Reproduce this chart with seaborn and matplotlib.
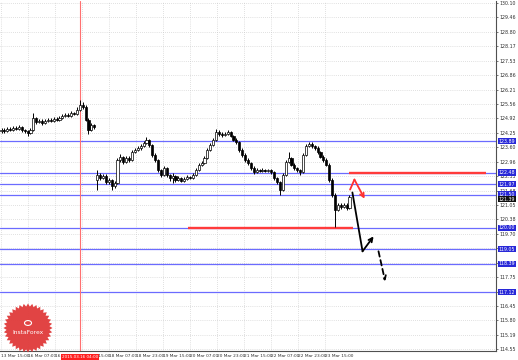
import numpy as np
import pandas as pd
import matplotlib
matplotlib.use("Agg")
import matplotlib.pyplot as plt
import seaborn as sns
from matplotlib.patches import Polygon, Circle

sns.set_style("white")
plt.rcParams['font.family'] = ['DejaVu Sans']

# ---------------- data (H1-ish candles, price) ----------------
opens = [124.33, 124.40, 124.35, 124.44, 124.40, 124.49, 124.44, 124.53, 124.40, 124.35,
         124.26, 124.40, 124.94, 124.76, 124.80, 124.71, 124.80, 124.85, 124.80, 124.89,
         124.85, 124.94, 125.03, 125.07, 125.03, 125.16, 125.12, 125.30, 125.52, 125.43,
         124.85, 124.40, 124.62,
         122.15, 122.38, 122.24, 122.33, 122.06, 122.15, 121.89, 122.02, 123.05, 123.19,
         122.96, 123.14, 123.05, 123.41, 123.50, 123.59, 123.68, 123.81, 123.95, 123.72,
         123.28, 123.05, 122.60, 122.38, 122.69, 122.38, 122.24, 122.33, 122.15, 122.24,
         122.11, 122.20, 122.29, 122.24, 122.38, 122.60, 122.83, 122.92, 123.14, 123.50,
         123.72, 123.95, 124.31, 124.22, 124.17, 124.22, 124.31, 124.13, 123.95, 123.86,
         123.50, 123.28, 123.05, 122.92, 122.69, 122.51, 122.60, 122.56, 122.60, 122.56,
         122.60, 122.51, 122.24, 122.06, 121.70, 122.38, 122.96, 123.14, 122.83, 122.69,
         122.60, 122.51, 123.28, 123.68, 123.77, 123.68, 123.59, 123.41, 123.19, 123.05,
         122.83, 122.15, 121.48, 120.81, 121.03, 120.94, 121.03, 120.90]
closes = [124.40, 124.35, 124.44, 124.40, 124.49, 124.44, 124.53, 124.40, 124.35, 124.26,
          124.40, 124.94, 124.76, 124.80, 124.71, 124.80, 124.85, 124.80, 124.89, 124.85,
          124.94, 125.03, 125.07, 125.03, 125.16, 125.12, 125.30, 125.52, 125.43, 124.85,
          124.40, 124.62, 124.53,
          122.38, 122.24, 122.33, 122.06, 122.15, 121.89, 122.02, 123.05, 123.19, 122.96,
          123.14, 123.05, 123.41, 123.50, 123.59, 123.68, 123.81, 123.95, 123.72, 123.28,
          123.05, 122.60, 122.38, 122.69, 122.38, 122.24, 122.33, 122.15, 122.24, 122.11,
          122.20, 122.29, 122.24, 122.38, 122.60, 122.83, 122.92, 123.14, 123.50, 123.72,
          123.95, 124.31, 124.22, 124.17, 124.22, 124.31, 124.13, 123.95, 123.86, 123.50,
          123.28, 123.05, 122.92, 122.69, 122.51, 122.60, 122.56, 122.60, 122.56, 122.60,
          122.51, 122.24, 122.06, 121.70, 122.38, 122.96, 123.14, 122.83, 122.69, 122.60,
          122.51, 123.28, 123.68, 123.77, 123.68, 123.59, 123.41, 123.19, 123.05, 122.83,
          122.15, 121.48, 120.81, 121.03, 120.94, 121.03, 120.90, 121.39]
highs = [124.50, 124.48, 124.52, 124.53, 124.58, 124.56, 124.62, 124.58, 124.45, 124.40,
         124.48, 125.18, 125.00, 124.90, 124.88, 124.88, 124.93, 124.92, 124.97, 124.96,
         125.02, 125.12, 125.15, 125.14, 125.24, 125.22, 125.42, 125.74, 125.65, 125.50,
         124.92, 124.70, 124.68,
         122.60, 122.45, 122.42, 122.40, 122.24, 122.20, 122.12, 123.15, 123.30, 123.25,
         123.22, 123.24, 123.50, 123.60, 123.68, 123.76, 123.90, 124.08, 124.00, 123.78,
         123.35, 123.10, 122.66, 122.78, 122.74, 122.44, 122.45, 122.38, 122.32, 122.30,
         122.28, 122.36, 122.35, 122.45, 122.68, 122.90, 123.00, 123.22, 123.58, 123.80,
         124.04, 124.44, 124.38, 124.30, 124.31, 124.40, 124.36, 124.18, 124.02, 123.92,
         123.60, 123.36, 123.12, 122.98, 122.76, 122.68, 122.66, 122.67, 122.65, 122.66,
         122.65, 122.56, 122.30, 122.12, 122.46, 123.05, 123.41, 123.20, 122.90, 122.75,
         122.66, 123.36, 123.76, 123.86, 123.84, 123.74, 123.66, 123.46, 123.26, 123.12,
         122.90, 122.22, 121.55, 121.12, 121.10, 121.10, 121.10, 121.48]
lows = [124.25, 124.28, 124.30, 124.33, 124.35, 124.38, 124.40, 124.32, 124.27, 124.14,
        124.20, 124.36, 124.68, 124.70, 124.64, 124.66, 124.74, 124.74, 124.75, 124.78,
        124.80, 124.90, 124.98, 124.96, 124.98, 125.05, 125.08, 125.26, 125.35, 124.78,
        124.22, 124.35, 124.45,
        121.70, 122.15, 122.18, 121.98, 121.98, 121.68, 121.80, 121.98, 122.98, 122.85,
        122.90, 122.96, 123.00, 123.35, 123.44, 123.52, 123.62, 123.76, 123.65, 123.20,
        122.96, 122.52, 122.30, 122.32, 122.30, 122.10, 122.02, 122.08, 122.10, 122.04,
        122.06, 122.14, 122.18, 122.20, 122.34, 122.55, 122.76, 122.86, 123.08, 123.44,
        123.66, 123.90, 124.14, 124.10, 124.12, 124.16, 124.06, 123.88, 123.78, 123.42,
        123.18, 122.96, 122.84, 122.60, 122.44, 122.46, 122.50, 122.50, 122.49, 122.50,
        122.42, 122.16, 121.96, 121.48, 121.65, 122.32, 122.90, 122.76, 122.62, 122.52,
        122.38, 122.46, 123.22, 123.62, 123.60, 123.52, 123.34, 123.12, 122.98, 122.76,
        122.08, 121.40, 120.05, 120.74, 120.86, 120.88, 120.82, 120.85]

levels = [123.89, 122.48, 121.97, 121.50, 120.00, 119.05, 118.39, 117.12]
level_labels = ["123.89", "122.48", "121.97", "121.50", "120.00", "119.05", "118.39", "117.12"]
red_levels = [122.48, 120.00]
red_start = [119.8, 64.3]
red_end = [167.0, 121.2]
marker_bar = 27
marker_label = "2015.03.16 04:00"
bid_price = 121.39
bid_label = "121.39"

price_ticks = ["114.55", "115.19", "115.80", "116.45", "", "117.75", "", "", "119.70", "120.38",
               "121.05", "121.68", "122.33", "122.96", "123.60", "124.25", "124.92", "125.56",
               "126.21", "126.86", "127.53", "128.17", "128.80", "129.46", "130.10"]
time_labels = ["13 Mar 15:00", "16 Mar 07:00", "16 Mar 23:00", "17 Mar 15:00", "18 Mar 07:00",
               "18 Mar 23:00", "19 Mar 15:00", "20 Mar 07:00", "20 Mar 23:00", "21 Mar 15:00",
               "22 Mar 07:00", "22 Mar 23:00", "23 Mar 15:00"]

solid_x = [121.0, 124.5, 128.3]
solid_y = [121.59, 118.95, 119.62]
dash_x = [130.0, 132.3]
dash_y = [118.95, 117.60]
alt_x = [120.2, 121.7, 125.2]
alt_y = [121.72, 122.17, 121.31]

# ---------------- layout ----------------
W, H = 518, 360
BAR_PX = 2.9
fig = plt.figure(figsize=(W / 100, H / 100), dpi=100)
fig.patch.set_facecolor("white")
ax = fig.add_axes([0, 9 / H, 496 / W, 350 / H])
ax.set_facecolor("white")

n = len(closes)
x = np.arange(n)
ax.set_xlim(-1.5 / BAR_PX, (496 - 1.5) / BAR_PX)
ax.set_ylim(114.475, 130.186)

# grid / ticks
pt = np.linspace(114.55, 130.10, len(price_ticks))
ax.yaxis.tick_right()
ax.set_yticks(pt)
ax.set_yticklabels(price_ticks, fontsize=3.4, color="#303030")
tx = (np.arange(len(time_labels)) * 27 + 1 - 1.5) / BAR_PX
ax.set_xticks(tx)
ax.set_xticklabels(time_labels, fontsize=3.1, color="#303030", ha="left")
ax.tick_params(axis="y", length=1.5, width=0.5, pad=1.0, color="#404040")
ax.tick_params(axis="x", length=1.5, width=0.5, pad=0.8, color="#404040")
ax.grid(True, color="#c4c4c4", linestyle=(0, (1, 2)), linewidth=0.5)
for s in ["left", "top"]:
    ax.spines[s].set_visible(False)
for s in ["right", "bottom"]:
    ax.spines[s].set_color("#505050")
    ax.spines[s].set_linewidth(0.8)

# horizontal levels
for lv in levels:
    ax.axhline(lv, color="#6b6bff", lw=0.9, zorder=2)
for lv, a, b in zip(red_levels, red_start, red_end):
    ax.plot([a, b], [lv, lv], color="#ff3b3b", lw=1.7, zorder=3, solid_capstyle="butt")

# vertical marker
ax.axvline(marker_bar, color="#ff7070", lw=0.8, zorder=2)

# candles
o = np.array(opens); c = np.array(closes); h = np.array(highs); l = np.array(lows)
ax.vlines(x, l, h, color="black", lw=0.7, zorder=4)
up = c >= o
ax.bar(x[up], (c - o)[up], bottom=o[up], width=0.7, color="white",
       edgecolor="black", linewidth=0.5, zorder=5)
ax.bar(x[~up], (c - o)[~up], bottom=o[~up], width=0.7, color="black",
       edgecolor="black", linewidth=0.5, zorder=5)

# forecast paths
df_solid = pd.DataFrame({"bar": solid_x[:-1], "price": solid_y[:-1]})
sns.lineplot(data=df_solid, x="bar", y="price", sort=False, color="black", lw=1.3, ax=ax, zorder=6)
ax.annotate("", xy=(solid_x[-1], solid_y[-1]), xytext=(solid_x[-2], solid_y[-2]),
            arrowprops=dict(arrowstyle="->", color="black", lw=1.3, mutation_scale=7,
                            shrinkA=0, shrinkB=0), zorder=6)
ax.annotate("", xy=(dash_x[-1], dash_y[-1]), xytext=(dash_x[0], dash_y[0]),
            arrowprops=dict(arrowstyle="->", color="black", lw=1.3, linestyle=(0, (3, 2)),
                            mutation_scale=7, shrinkA=0, shrinkB=0), zorder=6)
ax.plot(alt_x[:-1], alt_y[:-1], color="#ff3030", lw=1.3, zorder=6)
ax.annotate("", xy=(alt_x[-1], alt_y[-1]), xytext=(alt_x[-2], alt_y[-2]),
            arrowprops=dict(arrowstyle="->", color="#ff3030", lw=1.3, mutation_scale=7,
                            shrinkA=0, shrinkB=0), zorder=6)
ax.set_xlabel(""); ax.set_ylabel("")

# right-side price boxes
ytr = ax.get_yaxis_transform()
for lv, lab in zip(levels, level_labels):
    ax.text(1.005, lv, lab, transform=ytr, fontsize=3.4, color="white", va="center", ha="left",
            bbox=dict(boxstyle="square,pad=0.15", fc="#2828d8", ec="none"), clip_on=False, zorder=10)
ax.text(1.005, bid_price - 0.1, bid_label, transform=ytr, fontsize=3.4, color="white", va="center",
        ha="left", bbox=dict(boxstyle="square,pad=0.15", fc="#101010", ec="none"), clip_on=False, zorder=11)

# marker label on the time axis
ax.text(marker_bar, -0.011, marker_label, transform=ax.get_xaxis_transform(), fontsize=3.0,
        color="white", ha="center", va="top",
        bbox=dict(boxstyle="square,pad=0.2", fc="#ff2020", ec="none"), clip_on=False, zorder=12)

# logo (starburst)
cx, cy, r1, r2, k = 28, 360 - 328, 24.5, 21.5, 36
ang = np.linspace(0, 2 * np.pi, 2 * k, endpoint=False)
rad = np.where(np.arange(2 * k) % 2 == 0, r1, r2)
pts = np.column_stack([(cx + rad * np.cos(ang)) / W, (cy + rad * np.sin(ang)) / H])
fig.patches.append(Polygon(pts, closed=True, transform=fig.transFigure, fc="#e03a3a",
                           ec="none", alpha=0.95, zorder=20))
fig.patches.append(Circle((cx / W, (cy + 5) / H), 3.5 / W, transform=fig.transFigure,
                          fc="none", ec="white", lw=0.8, zorder=21))
fig.text(cx / W, (cy - 5) / H, "InstaForex", color="white", fontsize=4.3, ha="center",
         va="center", zorder=22)

fig.savefig("out.png", dpi=100)
